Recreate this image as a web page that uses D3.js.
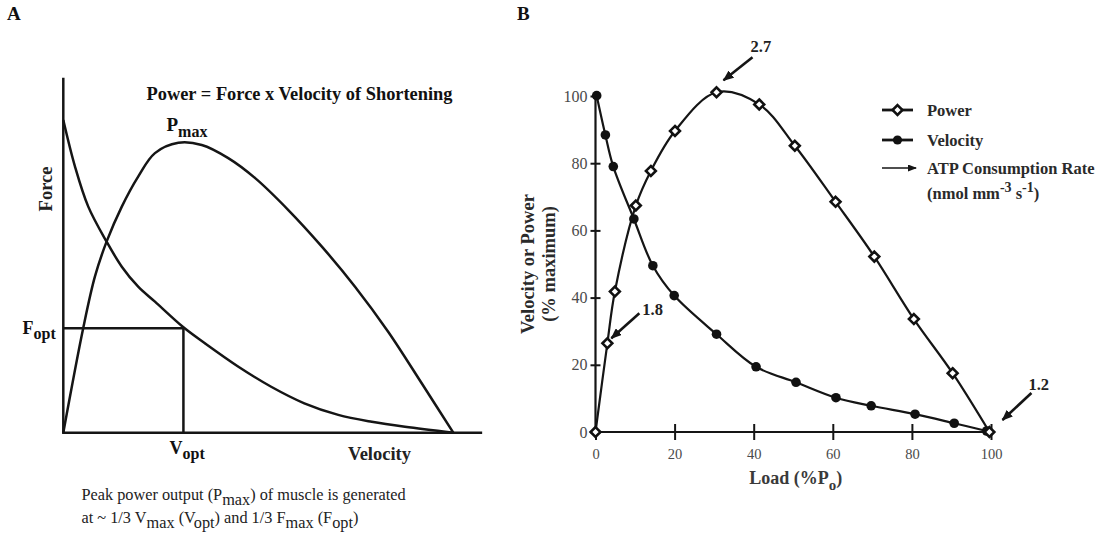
<!DOCTYPE html>
<html>
<head>
<meta charset="utf-8">
<script src="https://cdn.jsdelivr.net/npm/d3@7"></script>
<style>
  body { margin: 0; background: #fff; }
  svg { display: block; }
  text { font-family: "Liberation Serif", "Times New Roman", serif; }
</style>
</head>
<body>
<svg id="chart" width="1102" height="534"></svg>
<script>
// ---- Panel A: schematic force / power vs velocity (normalised)
const forceV = [0, 0.03, 0.064, 0.111, 0.15, 0.192, 0.235, 0.308, 0.363, 0.449, 0.533, 0.618, 0.705, 0.791, 0.876, 1];
const forceF = [1, 0.851, 0.723, 0.611, 0.531, 0.467, 0.419, 0.337, 0.286, 0.211, 0.147, 0.094, 0.057, 0.035, 0.019, 0];
const powerV = [0, 0.051, 0.081, 0.111, 0.15, 0.192, 0.235, 0.295, 0.355, 0.423, 0.492, 0.577, 0.663, 0.748, 0.833, 0.919, 1];
const powerP = [0, 0.334, 0.499, 0.611, 0.723, 0.819, 0.894, 0.927, 0.92, 0.878, 0.814, 0.712, 0.595, 0.467, 0.323, 0.158, 0];
const vOpt = 0.308, fOpt = 0.334;

// ---- Panel B: load vs velocity / power (% maximum)
const powerLoad = [0, 3, 4.9, 10.2, 14, 20.1, 30.6, 41.4, 50.4, 60.7, 70.5, 80.5, 90.3, 99.6];
const powerPct = [0, 26.4, 41.8, 67.4, 77.7, 89.6, 101.1, 97.5, 85.2, 68.5, 52.2, 33.6, 17.5, 0];
const velocityLoad = [0.3, 2.5, 4.5, 9.7, 14.5, 19.9, 30.6, 40.6, 50.7, 60.8, 69.7, 80.8, 90.7, 98.9];
const velocityPct = [100.1, 88.4, 79, 63.4, 49.5, 40.6, 29.1, 19.4, 14.8, 10.2, 7.8, 5.3, 2.6, 0.3];
const tickValues = [0, 20, 40, 60, 80, 100];
const atpLabels = ["2.7", "1.8", "1.2"];
const atpLoad = [30.6, 3, 99.6];
const atpPct = [101.1, 26.4, 0];

const svg = d3.select("#chart");
svg.append("rect").attr("width", 1102).attr("height", 534).attr("fill", "#fff");

const ink = "#151515";

// arrow heads
const defs = svg.append("defs");
defs.append("marker")
  .attr("id", "headBig")
  .attr("viewBox", "0 0 11 9")
  .attr("markerUnits", "userSpaceOnUse")
  .attr("markerWidth", 11).attr("markerHeight", 9)
  .attr("refX", 10).attr("refY", 4.5)
  .attr("orient", "auto")
  .append("path").attr("d", "M0,0L11,4.5L0,9Z").attr("fill", ink);
defs.append("marker")
  .attr("id", "headSmall")
  .attr("viewBox", "0 0 9 7")
  .attr("markerUnits", "userSpaceOnUse")
  .attr("markerWidth", 9).attr("markerHeight", 7)
  .attr("refX", 8).attr("refY", 3.5)
  .attr("orient", "auto")
  .append("path").attr("d", "M0,0L9,3.5L0,7Z").attr("fill", ink);

// text with subscript / superscript pieces: parts = [[text, "n"|"sub"|"sup"], ...]
function richText(g, x, y, parts, size, weight, fill, subSize) {
  const t = g.append("text")
    .attr("x", x).attr("y", y)
    .attr("font-size", size)
    .attr("font-weight", weight)
    .attr("fill", fill);
  let shift = 0;
  parts.forEach(p => {
    const s = t.append("tspan").text(p[0]);
    let target = 0;
    if (p[1] === "sub") target = size * 0.33;
    if (p[1] === "sup") target = -size * 0.4;
    if (p[1] !== "n") s.attr("font-size", subSize);
    s.attr("dy", target - shift);
    shift = target;
  });
  return t;
}

// ================= PANEL A =================
const gA = svg.append("g");
const xA = d3.scaleLinear().domain([0, 1]).range([63.3, 453.3]);
const yA = d3.scaleLinear().domain([0, 1]).range([432.7, 120]);

gA.append("text").attr("x", 7).attr("y", 19.5)
  .attr("font-size", 19).attr("font-weight", "bold").attr("fill", "#111").text("A");

// axes
gA.append("line")
  .attr("x1", xA(0)).attr("x2", xA(0))
  .attr("y1", yA(0) + 1).attr("y2", yA(1.135))
  .attr("stroke", ink).attr("stroke-width", 2.5);
gA.append("line")
  .attr("x1", xA(0) - 1).attr("x2", xA(1.074))
  .attr("y1", yA(0)).attr("y2", yA(0))
  .attr("stroke", ink).attr("stroke-width", 2.5);

const lineA = d3.line().x(d => xA(d[0])).y(d => yA(d[1])).curve(d3.curveCatmullRom.alpha(0.5));

gA.append("path")
  .datum(forceV.map((v, i) => [v, forceF[i]]))
  .attr("d", lineA).attr("fill", "none").attr("stroke", ink).attr("stroke-width", 2.5);
gA.append("path")
  .datum(powerV.map((v, i) => [v, powerP[i]]))
  .attr("d", lineA).attr("fill", "none").attr("stroke", ink).attr("stroke-width", 2.5);

// optimum guide lines
gA.append("path")
  .attr("d", `M${xA(0)},${yA(fOpt)}H${xA(vOpt)}V${yA(0)}`)
  .attr("fill", "none").attr("stroke", ink).attr("stroke-width", 2.5);

richText(gA, 146.5, 100, [["Power = Force x Velocity of Shortening", "n"]], 18.4, "bold", "#111");
richText(gA, 166.5, 130.7, [["P", "n"], ["max", "sub"]], 19, "bold", "#111", 16);
richText(gA, 22.5, 333.5, [["F", "n"], ["opt", "sub"]], 18, "bold", "#111", 16);
richText(gA, 169.5, 453.5, [["V", "n"], ["opt", "sub"]], 18, "bold", "#111", 16);
gA.append("text").attr("x", 348).attr("y", 460)
  .attr("font-size", 18.5).attr("font-weight", "bold").attr("fill", "#222").text("Velocity");
gA.append("text")
  .attr("transform", "translate(51.5,189) rotate(-90)")
  .attr("text-anchor", "middle")
  .attr("font-size", 18.5).attr("font-weight", "bold").attr("fill", "#222").text("Force");

richText(gA, 81.5, 500, [["Peak power output (P", "n"], ["max", "sub"], [") of muscle is generated", "n"]], 16.3, "normal", "#222", 16.3);
richText(gA, 81.5, 523, [["at ~ 1/3 V", "n"], ["max", "sub"], [" (V", "n"], ["opt", "sub"], [") and 1/3 F", "n"],
  ["max", "sub"], [" (F", "n"], ["opt", "sub"], [")", "n"]], 16.3, "normal", "#222", 16.3);

// ================= PANEL B =================
const gB = svg.append("g");
const xB = d3.scaleLinear().domain([0, 100]).range([595.5, 991]);
const yB = d3.scaleLinear().domain([0, 100]).range([432, 96]);

gB.append("text").attr("x", 517).attr("y", 19.5)
  .attr("font-size", 19).attr("font-weight", "bold").attr("fill", "#111").text("B");

// y axis
const yAxis = d3.axisLeft(yB).tickValues(tickValues).tickSize(10).tickPadding(4);
const gy = gB.append("g").attr("transform", `translate(${xB(0)},0)`).call(yAxis);
gy.select(".domain").remove();
gy.selectAll(".tick line").attr("x1", -5).attr("x2", 5).attr("stroke", ink).attr("stroke-width", 2);
gy.selectAll(".tick text")
  .attr("font-family", "Liberation Serif, serif").attr("font-size", 16).attr("fill", "#4a4a4a")
  .attr("x", -8);
gy.append("line").attr("x1", 0).attr("x2", 0).attr("y1", yB(0)).attr("y2", yB(100))
  .attr("stroke", ink).attr("stroke-width", 2.2);

// x axis
const xAxis = d3.axisBottom(xB).tickValues(tickValues).tickSize(10).tickPadding(7);
const gx = gB.append("g").attr("transform", `translate(0,${yB(0)})`).call(xAxis);
gx.select(".domain").remove();
gx.selectAll(".tick line").attr("y1", -8).attr("y2", 8).attr("stroke", ink).attr("stroke-width", 2);
gx.selectAll(".tick text")
  .attr("font-family", "Liberation Serif, serif").attr("font-size", 14.5).attr("fill", "#4a4a4a");
gx.append("line").attr("x1", xB(0)).attr("x2", xB(101)).attr("y1", 0).attr("y2", 0)
  .attr("stroke", ink).attr("stroke-width", 2.2);

// axis titles
richText(gB, xB(51) - 48, 484, [["Load (%P", "n"], ["o", "sub"], [")", "n"]], 18, "bold", "#3a3a3a", 15);
const yt = gB.append("text")
  .attr("transform", `translate(533.5,264) rotate(-90)`)
  .attr("text-anchor", "middle")
  .attr("font-size", 18.5).attr("font-weight", "bold").attr("fill", "#2a2a2a");
yt.append("tspan").attr("x", 0).attr("dy", 0).text("Velocity or Power");
yt.append("tspan").attr("x", 0).attr("dy", 21.5).text("(% maximum)");

// curves
const lineB = d3.line().x(d => xB(d[0])).y(d => yB(d[1])).curve(d3.curveCatmullRom.alpha(0.5));
const powerData = powerLoad.map((l, i) => [l, powerPct[i]]);
const velocityData = velocityLoad.map((l, i) => [l, velocityPct[i]]);

gB.append("path").datum(velocityData).attr("d", lineB)
  .attr("fill", "none").attr("stroke", ink).attr("stroke-width", 2.2);
gB.append("path").datum(powerData).attr("d", lineB)
  .attr("fill", "none").attr("stroke", ink).attr("stroke-width", 2.2);

const diamond = d3.symbol().type(d3.symbolDiamond2).size(62);

gB.selectAll(".vel").data(velocityData).enter().append("circle")
  .attr("class", "vel")
  .attr("cx", d => xB(d[0])).attr("cy", d => yB(d[1]))
  .attr("r", 4.8).attr("fill", "#111");
gB.selectAll(".pow").data(powerData).enter().append("path")
  .attr("class", "pow")
  .attr("transform", d => `translate(${xB(d[0])},${yB(d[1])})`)
  .attr("d", diamond)
  .attr("fill", "#fff").attr("stroke", "#111").attr("stroke-width", 2.6);

// ATP consumption annotations
const annotGeom = [
  { tip: [7, -12], tail: [36, -35], text: [-2, -5] },
  { tip: [4, -5], tail: [32, -30], text: [3, 2] },
  { tip: [13, -12], tail: [42, -39], text: [-3, -3] }
];
atpLabels.forEach((lab, i) => {
  const px = xB(atpLoad[i]), py = yB(atpPct[i]);
  const g = annotGeom[i];
  gB.append("line")
    .attr("x1", px + g.tail[0]).attr("y1", py + g.tail[1])
    .attr("x2", px + g.tip[0]).attr("y2", py + g.tip[1])
    .attr("stroke", ink).attr("stroke-width", 2.6)
    .attr("marker-end", "url(#headBig)");
  gB.append("text")
    .attr("x", px + g.tail[0] + g.text[0]).attr("y", py + g.tail[1] + g.text[1])
    .attr("font-size", 16.5).attr("font-weight", "bold").attr("fill", "#222")
    .text(lab);
});

// legend
const lg = gB.append("g").attr("transform", "translate(882,110)");
const legendRows = ["Power", "Velocity", "ATP Consumption Rate"];
legendRows.forEach((name, i) => {
  const y = [0, 30, 58][i];
  if (i < 2) {
    lg.append("line").attr("x1", 0).attr("x2", 31).attr("y1", y).attr("y2", y)
      .attr("stroke", ink).attr("stroke-width", 2.8);
    if (i === 0) {
      lg.append("path").attr("transform", `translate(15.5,${y})`).attr("d", diamond)
        .attr("fill", "#fff").attr("stroke", "#111").attr("stroke-width", 2.6);
    } else {
      lg.append("circle").attr("cx", 15.5).attr("cy", y).attr("r", 4.6).attr("fill", "#111");
    }
  } else {
    lg.append("line").attr("x1", 0).attr("x2", 34).attr("y1", y).attr("y2", y)
      .attr("stroke", ink).attr("stroke-width", 1.6)
      .attr("marker-end", "url(#headSmall)");
  }
  lg.append("text").attr("x", 45).attr("y", y + 6)
    .attr("font-size", 16.5).attr("font-weight", "bold").attr("fill", "#2a2a2a").text(name);
});
richText(lg, 45, 89, [["(nmol mm", "n"], ["-3", "sup"], [" s", "n"], ["-1", "sup"], [")", "n"]], 16.5, "bold", "#2a2a2a", 14);
</script>
</body>
</html>
